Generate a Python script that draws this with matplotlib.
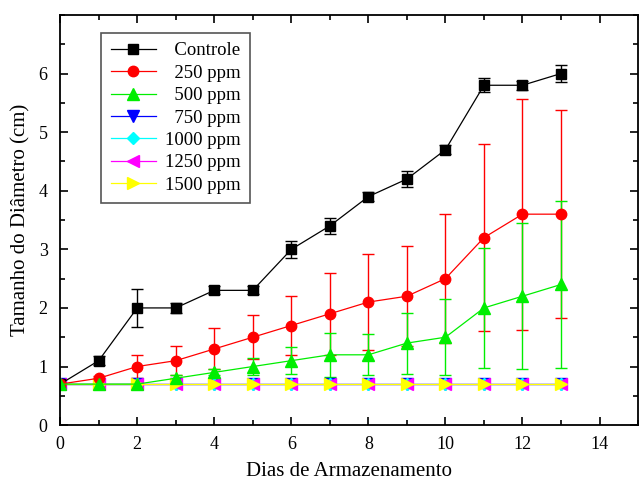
import matplotlib.pyplot as plt
from matplotlib.ticker import MultipleLocator
from matplotlib.lines import Line2D

days = list(range(14))

controle = [0.7, 1.1, 2.0, 2.0, 2.3, 2.3, 3.0, 3.4, 3.9, 4.2, 4.7, 5.8, 5.8, 6.0]
controle_err = [0, 0.08, 0.33, 0.08, 0.07, 0.07, 0.15, 0.14, 0.08, 0.14, 0.08, 0.12, 0.08, 0.15]

ppm250 = [0.7, 0.8, 1.0, 1.1, 1.3, 1.5, 1.7, 1.9, 2.1, 2.2, 2.5, 3.2, 3.6, 3.6]
ppm250_err = [0, 0.03, 0.2, 0.25, 0.35, 0.38, 0.5, 0.7, 0.82, 0.85, 1.1, 1.6, 1.97, 1.77]

ppm500 = [0.7, 0.7, 0.7, 0.8, 0.9, 1.0, 1.1, 1.2, 1.2, 1.4, 1.5, 2.0, 2.2, 2.4]
ppm500_err = [0, 0, 0, 0.05, 0.05, 0.15, 0.23, 0.38, 0.35, 0.52, 0.65, 1.02, 1.25, 1.42]

flat = [0.7] * 14

labels = ['\u2007Controle', '\u2007250 ppm', '\u2007500 ppm', '\u2007750 ppm',
          '1000 ppm', '1250 ppm', '1500 ppm']

plt.rcParams['font.family'] = ['Liberation Serif', 'DejaVu Serif']

fig = plt.figure(figsize=(6.4, 4.82), dpi=100)
ax = fig.add_axes([0.094, 0.118, 0.903, 0.851])

series = [
    (controle, controle_err, 'black', 's', 6.5),
    (ppm250, ppm250_err, 'red', 'o', 7.5),
    (ppm500, ppm500_err, '#00ee00', '^', 8),
    (flat, None, 'blue', 'v', 8),
    (flat, None, 'cyan', 'D', 6),
    (flat, None, 'magenta', '<', 8),
    (flat, None, 'yellow', '>', 8),
]

handles = []
for (vals, err, color, marker, ms), lab in zip(series, labels):
    if err is not None:
        ax.errorbar(days, vals, yerr=err, color=color, marker=marker, markersize=ms,
                    linewidth=0.9, elinewidth=1.0, capsize=4, capthick=1.0,
                    ecolor=color)
    else:
        ax.plot(days, vals, color=color, marker=marker, markersize=ms, linewidth=0.9)
    handles.append(Line2D([], [], color=color, marker=marker, markersize=ms,
                          linewidth=0.9, label=lab))

ax.set_xlim(0, 15)
ax.set_ylim(0, 7)
ax.set_xticks([0, 2, 4, 6, 8, 10, 12, 14])
ax.set_yticks([0, 1, 2, 3, 4, 5, 6])
ax.xaxis.set_minor_locator(MultipleLocator(1))
ax.yaxis.set_minor_locator(MultipleLocator(0.5))
ax.tick_params(which='both', direction='in', top=True, right=True, labelsize=13)
ax.tick_params(which='major', length=6, width=1.2)
ax.tick_params(which='minor', length=3.5, width=1.2)
ax.tick_params(axis='x', pad=8)
ax.tick_params(axis='y', pad=9)
for s in ax.spines.values():
    s.set_linewidth(1.3)

ax.set_xlabel('Dias de Armazenamento', fontsize=15, labelpad=6)
ax.set_ylabel('Tamanho do Diâmetro (cm)', fontsize=15, labelpad=6)

leg = ax.legend(handles=handles, loc='upper left', bbox_to_anchor=(0.071, 0.956),
                borderaxespad=0, fontsize=13.5, frameon=True, fancybox=False,
                edgecolor='#555555', framealpha=1, handlelength=2.4,
                labelspacing=0.28, borderpad=0.5, handletextpad=0.5)
leg.get_frame().set_linewidth(1.2)

plt.savefig('out.png', dpi=100)
